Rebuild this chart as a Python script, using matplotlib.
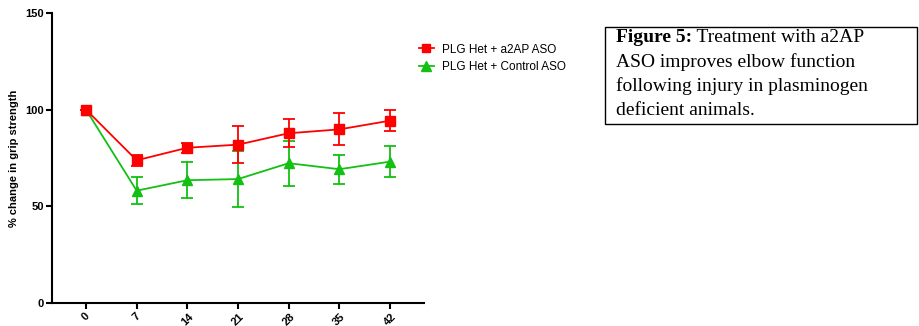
import matplotlib.pyplot as plt
from matplotlib.lines import Line2D

days = [0, 7, 14, 21, 28, 35, 42]
a2ap_mean = [100, 73.8, 80.3, 81.9, 87.8, 89.8, 94.3]
a2ap_err = [0, 2.8, 2.6, 9.4, 7.2, 8.3, 5.4]
ctrl_mean = [100, 58.1, 63.5, 64.1, 72.3, 69.2, 73.1]
ctrl_err = [0, 7.0, 9.2, 14.7, 11.7, 7.4, 8.0]
labels = ["PLG Het + a2AP ASO", "PLG Het + Control ASO"]
caption_bold = "Figure 5:"
caption_lines = [" Treatment with a2AP", "ASO improves elbow function",
                 "following injury in plasminogen", "deficient animals."]

plt.rcParams['font.family'] = ['Liberation Sans', 'DejaVu Sans']

W, H = 919, 326
fig = plt.figure(figsize=(W / 100, H / 100), dpi=100)
ax = fig.add_axes([52 / W, 23 / H, (424 - 52) / W, (303 - 13) / H])

red = '#FF0000'
green = '#13C013'
ax.errorbar(days, a2ap_mean, yerr=a2ap_err, color=red, marker='s', markersize=6.5,
            linewidth=1.3, elinewidth=1.3, capsize=4, capthick=1.3, zorder=3)
ax.errorbar(days, ctrl_mean, yerr=ctrl_err, color=green, marker='^', markersize=7,
            linewidth=1.3, elinewidth=1.3, capsize=4, capthick=1.3, zorder=2)

ax.set_xlim(-4.7, 46.7)
ax.set_ylim(0, 150)
ax.set_xticks(days)
ax.set_xticklabels([str(d) for d in days], rotation=45, fontsize=8, fontweight='bold')
ax.set_yticks([0, 50, 100, 150])
ax.set_yticklabels(['0', '50', '100', '150'], fontsize=8, fontweight='bold')
ax.set_ylabel('% change in grip strength', fontsize=8, fontweight='bold', labelpad=4)
for s in ['top', 'right']:
    ax.spines[s].set_visible(False)
for s in ['left', 'bottom']:
    ax.spines[s].set_linewidth(1.5)
ax.tick_params(width=1.5, length=4, pad=2)

handles = [Line2D([], [], color=red, marker='s', markersize=6, linewidth=1.3),
           Line2D([], [], color=green, marker='^', markersize=6.5, linewidth=1.3)]
fig.legend(handles, labels, loc='upper left', bbox_to_anchor=(408 / W, 1 - 33 / H), frameon=False,
           fontsize=8.5, handlelength=1.3, handletextpad=0.7, labelspacing=0.45)

# caption box
fig.patches.append(plt.Rectangle((605 / W, 1 - 124 / H), (917 - 605) / W, (124 - 27) / H,
                                 transform=fig.transFigure, fill=False, edgecolor='black', linewidth=1))
x0 = 616 / W
step = 24.3 / H
top = 1 - 29 / H
fs = 14
t1 = fig.text(x0, top, caption_bold, fontsize=fs, fontweight='bold',
              family='Liberation Serif', va='top')
fig.canvas.draw()
bb = t1.get_window_extent()
fig.text(bb.x1 / W, top, caption_lines[0], fontsize=fs, family='Liberation Serif', va='top')
for i, line in enumerate(caption_lines[1:], start=1):
    fig.text(x0, top - i * step, line, fontsize=fs, family='Liberation Serif', va='top')

fig.savefig('out.png', dpi=100)
